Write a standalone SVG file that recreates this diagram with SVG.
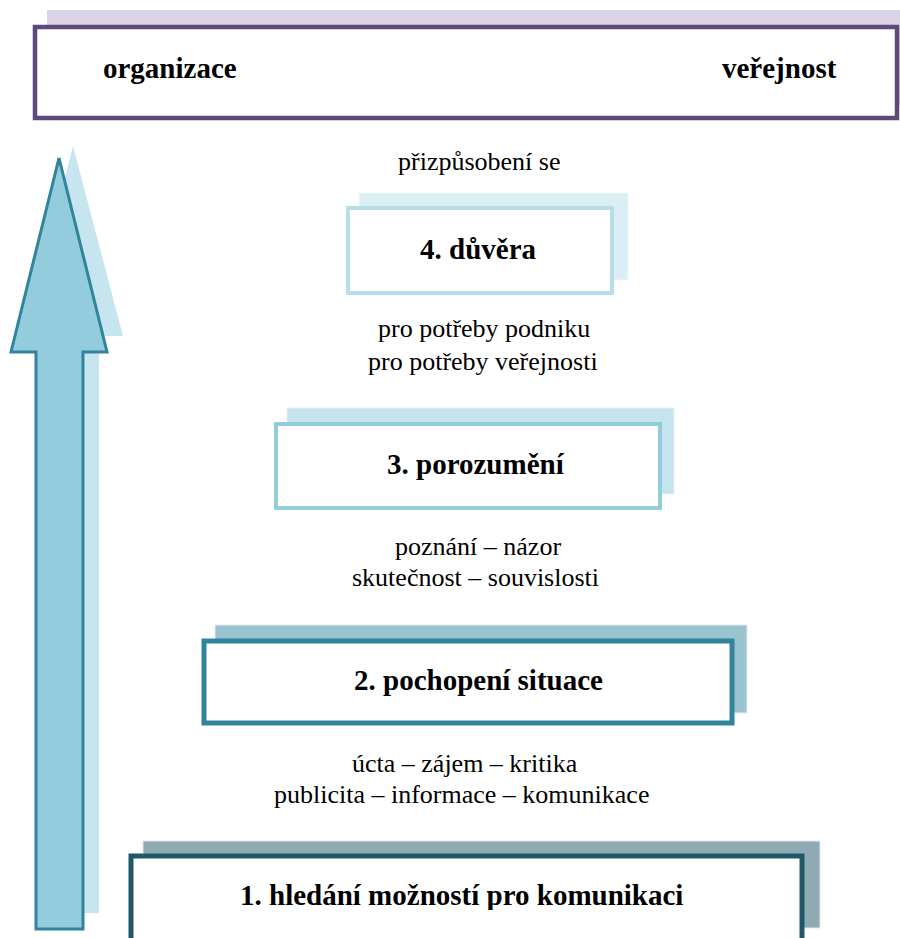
<svg xmlns="http://www.w3.org/2000/svg" width="900" height="938" viewBox="0 0 900 938">
<style>
.t{font-family:'Liberation Serif',serif;font-weight:bold;font-size:29px;fill:#000}
.n{font-family:'Liberation Serif',serif;font-size:26px;fill:#000}
</style>
<defs>
<clipPath id="c2"><rect x="0" y="0" width="900" height="696"/></clipPath>
<clipPath id="c1"><rect x="0" y="0" width="900" height="910"/></clipPath>
</defs>
<rect width="900" height="938" fill="#fff"/>
<g id="top">
<rect x="47" y="10" width="870" height="95" fill="#d9d3e5"/>
<rect x="35" y="27" width="862" height="91" fill="#fff" stroke="#5f497a" stroke-width="4.5"/>
<text class="t" x="103" y="78">organizace</text>
<text class="t" x="722" y="78">veřejnost</text>
</g>
<g id="arrow">
<polygon points="73,146 123,336 99,336 99,913 49,913 49,336 25,336" fill="#c6e5ee"/>
<polygon points="59,158 107,352 83,352 83,929 36,929 36,352 11,352" fill="#93cddd" stroke="#31849b" stroke-width="3"/>
</g>
<g id="labels">
<text class="n" x="398" y="170">přizpůsobení se</text>
<text class="n" x="378" y="337">pro potřeby podniku</text>
<text class="n" x="368" y="370">pro potřeby veřejnosti</text>
<text class="n" x="395" y="555">poznání – názor</text>
<text class="n" x="352" y="586">skutečnost – souvislosti</text>
<text class="n" x="352" y="772">úcta – zájem – kritika</text>
<text class="n" x="274" y="803">publicita – informace – komunikace</text>
</g>
<g id="n4">
<rect x="359" y="193" width="269" height="87" fill="#daeef3" stroke="#eef7fa" stroke-width="1"/>
<rect x="348" y="208" width="264" height="85" fill="#fff" stroke="#b6dde8" stroke-width="4"/>
<text class="t" x="420" y="259">4. důvěra</text>
</g>
<g id="n3">
<rect x="287" y="408" width="387" height="86" fill="#c6e4ed" stroke="#e4f2f6" stroke-width="1"/>
<rect x="276" y="424" width="384" height="84" fill="#fff" stroke="#92cddc" stroke-width="4"/>
<text class="t" x="387" y="474">3. porozumění</text>
</g>
<g id="n2">
<rect x="215" y="625" width="532" height="88" fill="#9ac3d0" stroke="#e2eef2" stroke-width="1"/>
<rect x="204" y="641" width="528" height="82" fill="#fff" stroke="#31849b" stroke-width="5"/>
<text class="t" x="354" y="690" clip-path="url(#c2)">2. pochopení situace</text>
</g>
<g id="n1">
<rect x="143" y="841" width="677" height="87" fill="#8eaab3" stroke="#e2eaed" stroke-width="1"/>
<rect x="131" y="856" width="671" height="90" fill="#fff" stroke="#205867" stroke-width="5"/>
<text class="t" x="240" y="905" clip-path="url(#c1)">1. hledání možností pro komunikaci</text>
</g>
</svg>
